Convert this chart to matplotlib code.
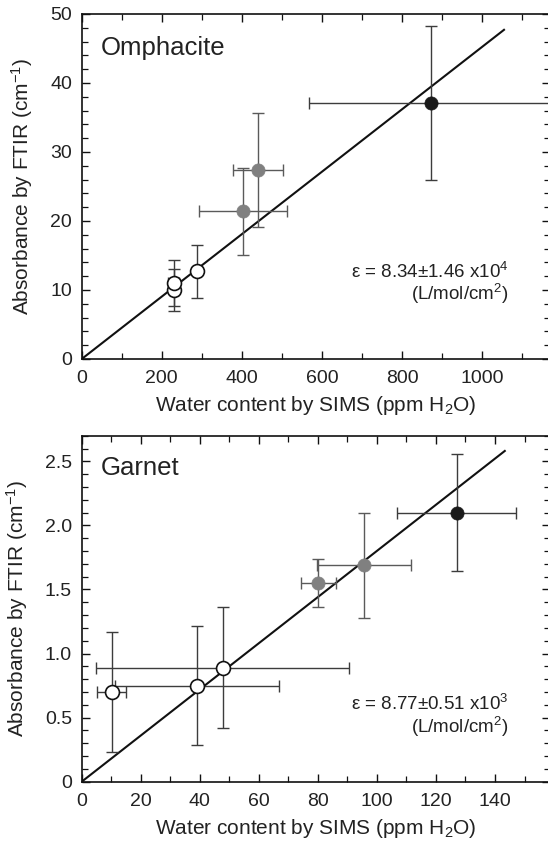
import matplotlib
matplotlib.use("Agg")
import matplotlib.pyplot as plt
from matplotlib.ticker import MultipleLocator, FixedLocator, FixedFormatter

plt.rcParams['font.family'] = ['Liberation Sans', 'DejaVu Sans']
plt.rcParams['mathtext.fontset'] = 'custom'
plt.rcParams['mathtext.rm'] = 'Liberation Sans'
plt.rcParams['mathtext.it'] = 'Liberation Sans'

# ---------------- Omphacite data ----------------
omph_open_x = [231, 230, 288]
omph_open_y = [10.0, 11.0, 12.7]
omph_open_xerr = [10, 14, 0]
omph_open_yerr = [3.0, 3.3, 3.8]

omph_gray_x = [402, 440]
omph_gray_y = [21.4, 27.4]
omph_gray_xerr = [110, 63]
omph_gray_yerr = [6.35, 8.3]

omph_black_x = [872]
omph_black_y = [37.1]
omph_black_xerr = [305]
omph_black_yerr = [11.2]

omph_fit_x = [0, 1057]
omph_fit_y = [0, 47.8]

# ---------------- Garnet data ----------------
gar_open_x = [10.2, 39.2, 47.7]
gar_open_y = [0.70, 0.75, 0.89]
gar_open_xerr = [4.85, 27.8, 43.0]
gar_open_yerr = [0.465, 0.466, 0.47]

gar_gray_x = [80.2, 95.6]
gar_gray_y = [1.55, 1.69]
gar_gray_xerr = [6.0, 16.0]
gar_gray_yerr = [0.19, 0.41]

gar_black_x = [127.0]
gar_black_y = [2.10]
gar_black_xerr = [20.2]
gar_black_yerr = [0.455]

gar_fit_x = [0, 143.6]
gar_fit_y = [0, 2.586]

W, H = 548, 841
fig = plt.figure(figsize=(W / 100, H / 100), dpi=100)

def px_axes(left, right, top, bottom):
    return fig.add_axes([left / W, 1 - bottom / H, (right - left) / W, (bottom - top) / H])

ax1 = px_axes(81.7, 550, 14, 359)
ax2 = px_axes(81.7, 550, 435.7, 781.7)

ebar_col = '#3c3c3c'
gray_col = '#808080'
black_col = '#1a1a1a'

def draw(ax, ox, oy, oxe, oye, gx, gy, gxe, gye, bx, by, bxe, bye, fx, fy):
    ax.plot(fx, fy, color='#111111', lw=1.5, zorder=2, solid_capstyle='butt')
    kw = dict(fmt='none', ecolor=ebar_col, elinewidth=1.0, capsize=4, capthick=1.0, zorder=3)
    ax.errorbar(ox, oy, xerr=oxe, yerr=oye, **kw)
    ax.errorbar(gx, gy, xerr=gxe, yerr=gye, **dict(kw, ecolor='#5a5a5a'))
    ax.errorbar(bx, by, xerr=bxe, yerr=bye, **kw)
    ax.plot(ox, oy, 'o', ms=10, mfc='white', mec='#111111', mew=1.2, ls='none', zorder=5)
    ax.plot(gx, gy, 'o', ms=9.5, mfc=gray_col, mec=gray_col, mew=0.5, ls='none', zorder=5)
    ax.plot(bx, by, 'o', ms=9.5, mfc=black_col, mec=black_col, mew=0.5, ls='none', zorder=5)

draw(ax1, omph_open_x, omph_open_y, omph_open_xerr, omph_open_yerr,
     omph_gray_x, omph_gray_y, omph_gray_xerr, omph_gray_yerr,
     omph_black_x, omph_black_y, omph_black_xerr, omph_black_yerr,
     omph_fit_x, omph_fit_y)
draw(ax2, gar_open_x, gar_open_y, gar_open_xerr, gar_open_yerr,
     gar_gray_x, gar_gray_y, gar_gray_xerr, gar_gray_yerr,
     gar_black_x, gar_black_y, gar_black_xerr, gar_black_yerr,
     gar_fit_x, gar_fit_y)

ax1.set_xlim(0, (550 - 81.7) / 0.4003)
ax1.set_ylim(0, 50)
ax2.set_xlim(0, (550 - 81.7) / 2.952)
ax2.set_ylim(0, 2.7)

ax1.xaxis.set_major_locator(FixedLocator([0, 200, 400, 600, 800, 1000]))
ax1.xaxis.set_minor_locator(MultipleLocator(100))
ax1.yaxis.set_major_locator(MultipleLocator(10))
ax1.yaxis.set_minor_locator(MultipleLocator(2))

ax2.xaxis.set_major_locator(FixedLocator([0, 20, 40, 60, 80, 100, 120, 140]))
ax2.xaxis.set_minor_locator(MultipleLocator(10))
g_yt = [0, 0.5, 1.0, 1.5, 2.0, 2.5]
g_ytl = ['0', '0.5', '1.0', '1.5', '2.0', '2.5']
ax2.yaxis.set_major_locator(FixedLocator(g_yt))
ax2.yaxis.set_major_formatter(FixedFormatter(g_ytl))
ax2.yaxis.set_minor_locator(MultipleLocator(0.1))

for ax in (ax1, ax2):
    for s in ax.spines.values():
        s.set_linewidth(1.2)
        s.set_color('#111111')
    ax.tick_params(which='both', direction='in', top=True, right=True, colors='#111111',
                   labelcolor='#222222')
    ax.tick_params(which='major', length=6, width=1.0, labelsize=14)
    ax.tick_params(axis='y', which='major', pad=7)
    ax.tick_params(axis='x', which='major', pad=8)
    ax.tick_params(which='minor', length=4, width=0.9)
    ax.set_xlabel('Water content by SIMS (ppm H$_2$O)', fontsize=15, color='#222222', labelpad=5)
    ax.set_ylabel('Absorbance by FTIR (cm$^{-1}$)', fontsize=15, color='#222222', labelpad=11)

ax1.text(0.041, 0.881, 'Omphacite', transform=ax1.transAxes, fontsize=18.5, color='#222222',
         ha='left', va='baseline')
ax2.text(0.041, 0.886, 'Garnet', transform=ax2.transAxes, fontsize=18.5, color='#222222',
         ha='left', va='baseline')

ax1.text(0.912, 0.235, 'ε = 8.34±1.46 x10$^4$', transform=ax1.transAxes, fontsize=13.5,
         color='#222222', ha='right', va='baseline')
ax1.text(0.912, 0.171, '(L/mol/cm$^2$)', transform=ax1.transAxes, fontsize=13.5,
         color='#222222', ha='right', va='baseline')
ax2.text(0.912, 0.208, 'ε = 8.77±0.51 x10$^3$', transform=ax2.transAxes, fontsize=13.5,
         color='#222222', ha='right', va='baseline')
ax2.text(0.912, 0.141, '(L/mol/cm$^2$)', transform=ax2.transAxes, fontsize=13.5,
         color='#222222', ha='right', va='baseline')

fig.savefig('out.png', dpi=100)
